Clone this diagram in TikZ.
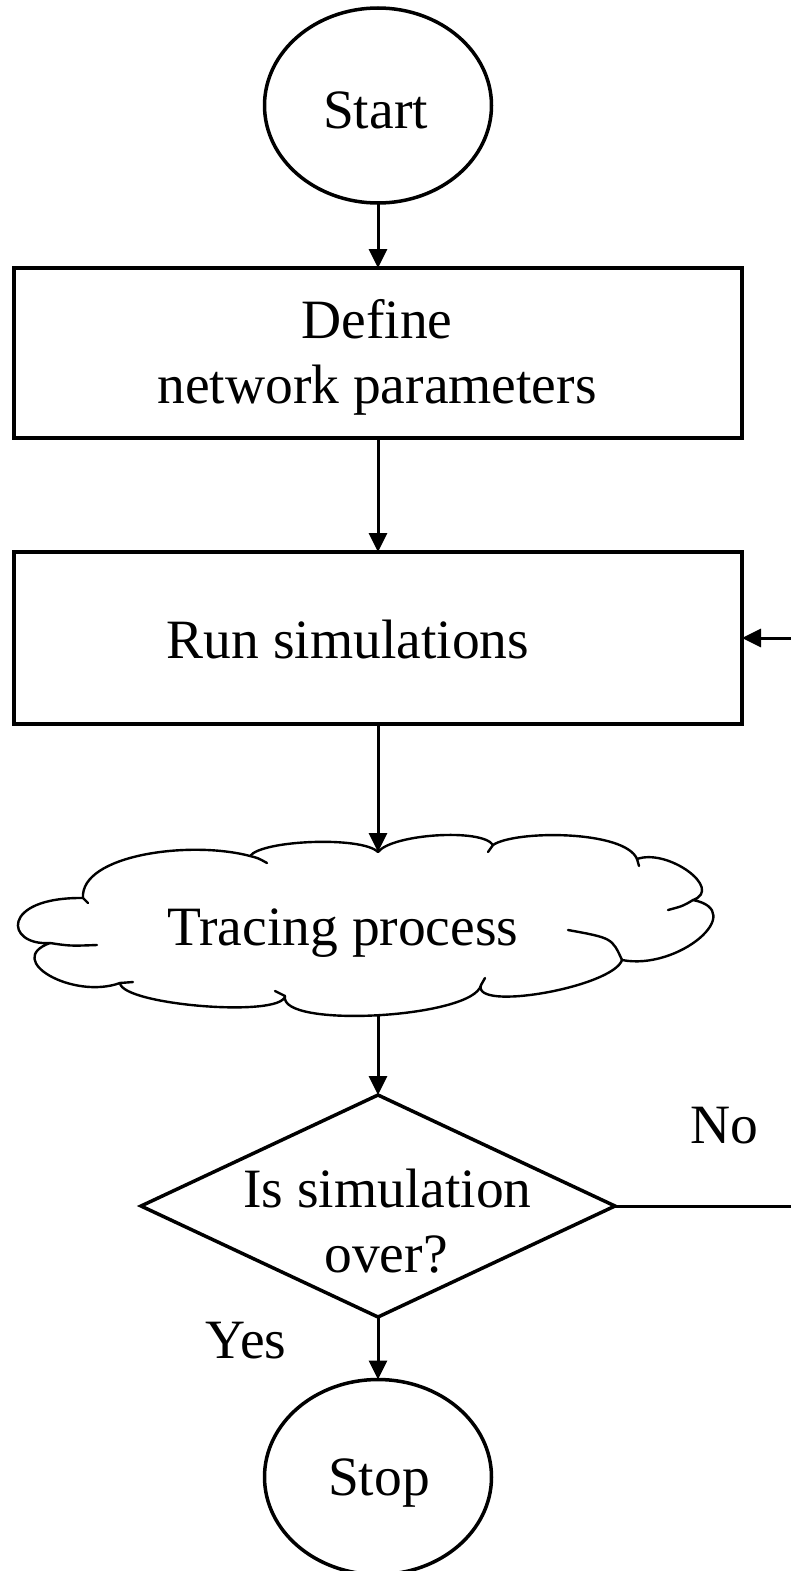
\documentclass[tikz,border=0pt]{standalone}
\usepackage{fontspec}
\setmainfont{Liberation Serif}
\usetikzlibrary{shapes.geometric,arrows.meta}
\begin{document}
\begin{tikzpicture}[x=1pt,y=-1pt,
  every node/.style={inner sep=0pt, outer sep=0pt},
  lbl/.style={anchor=base, font=\fontsize{55.5}{65}\selectfont},
  terminal/.style={draw, ellipse, line width=3.5pt, minimum width=227pt, minimum height=195pt},
  procbox/.style={draw, rectangle, line width=4pt, minimum width=728pt},
  decision/.style={draw, diamond, line width=3.5pt, minimum width=474pt, minimum height=222pt},
  flow/.style={line width=3pt, -{Triangle[length=19pt,width=18pt]}},
  plain/.style={line width=3pt},
  cloudline/.style={line width=2.4pt, line join=round, line cap=round}]
\useasboundingbox (0,0) rectangle (791,1571);

% start terminal
\node[terminal] (start) at (378,105.5) {};
\node[lbl] (starttxt) at (375.5,128) {Start};

% parameter definition
\node[procbox, minimum height=170pt] (define) at (378,353) {};
\node[lbl] (definetxt) at (377,338) {Define};
\node[lbl] (paramtxt) at (377,403) {network parameters};

% simulation step
\node[procbox, minimum height=172pt] (run) at (378,638) {};
\node[lbl] (runtxt) at (348,658) {Run simulations};

% tracing cloud
\draw[cloudline, fill=white] (83,898) .. controls (80,855) and (190,840) .. (250,856)
  .. controls (262,840) and (362,836) .. (378,852)
  .. controls (392,834) and (482,828) .. (493,845)
  .. controls (515,830) and (625,830) .. (637,859)
  .. controls (668,848) and (724,889) .. (693,900)
  .. controls (749,911) and (678,971) .. (622,960)
  .. controls (613,987) and (472,1012) .. (481,985)
  .. controls (474,1018) and (278,1029) .. (285,996)
  .. controls (282,1018) and (122,1005) .. (120,983)
  .. controls (73,1000) and (3,960) .. (50,943)
  .. controls (5,946) and (0,897) .. (83,898) -- cycle;
% inner ends of the puffs
\draw[cloudline] (250,856) .. controls (258,858) .. (267,863);
\draw[cloudline] (493,845) -- (488,852);
\draw[cloudline] (637,859) -- (639,866);
\draw[cloudline] (693,900) .. controls (683,906) .. (668,910);
\draw[cloudline] (622,960) .. controls (612,938) .. (568,930);
\draw[cloudline] (481,985) -- (485,978);
\draw[cloudline] (285,996) -- (275,991);
\draw[cloudline] (120,983) -- (133,982);
\draw[cloudline] (50,943) .. controls (70,946) .. (97,945);
\draw[cloudline] (83,898) -- (88,903);
\coordinate (ctop) at (378,852);
\coordinate (cbot) at (378,1015);
\node[lbl] (tracetxt) at (343,945) {Tracing process};

% decision
\node[decision] (check) at (378,1206) {};
\node[lbl] (checktxt) at (387.5,1207) {Is simulation};
\node[lbl] (overtxt) at (386,1272) {over?};
\node[lbl] (no) at (724.5,1143) {No};
\node[lbl] (yes) at (246,1358) {Yes};

% stop terminal
\node[terminal] (stop) at (378,1477) {};
\node[lbl] (stoptxt) at (379,1495) {Stop};

% loop-back ends at the right margin
\coordinate (loopin) at (791,638);
\coordinate (loopout) at (791,1206);

% connectors
\draw[flow] (start.south) -- (define.north);
\draw[flow] (define.south) -- (run.north);
\draw[flow] (run.south) -- (ctop);
\draw[flow] (cbot) -- (check.north);
\draw[flow] (check.south) -- (stop.north);
\draw[plain] (check.east) -- (loopout);
\draw[flow] (loopin) -- (run.east);
\end{tikzpicture}
\end{document}
